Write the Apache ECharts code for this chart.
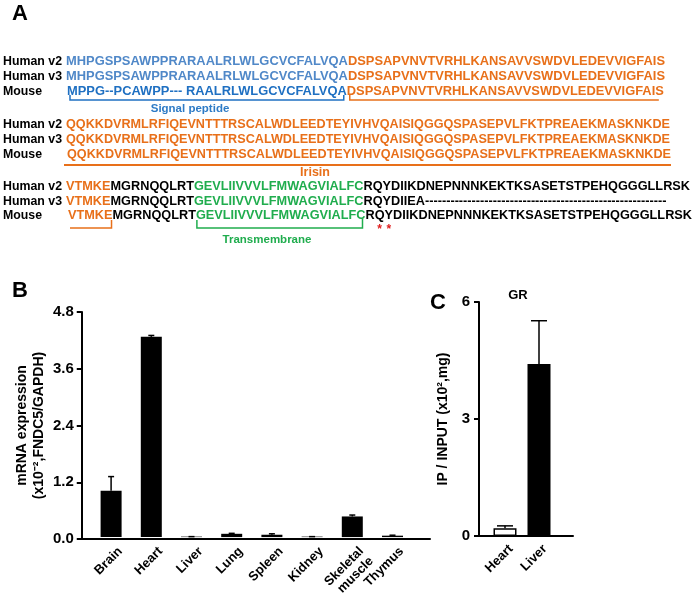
<!DOCTYPE html>
<html>
<head>
<meta charset="utf-8">
<script src="https://cdn.jsdelivr.net/npm/echarts@6/dist/echarts.min.js"></script>
<style>
  html, body { margin: 0; padding: 0; background: #fff; }
  #main { width: 697px; height: 601px; }
</style>
</head>
<body>
<div id="main"></div>
<script>
// ---- panel A : sequences ----
var rowLabels = ['Human v2', 'Human v3', 'Mouse'];
var seqBlock1 = [
  [['hb', 'MHPGSPSAWPPRARAALRLWLGCVCFALVQA'], ['or', 'DSPSAPVNVTVRHLKANSAVVSWDVLEDEVVIGFAIS']],
  [['hb', 'MHPGSPSAWPPRARAALRLWLGCVCFALVQA'], ['or', 'DSPSAPVNVTVRHLKANSAVVSWDVLEDEVVIGFAIS']],
  [['mb', 'MPPG--PCAWPP--- RAALRLWLGCVCFALVQA'], ['or', 'DSPSAPVNVTVRHLKANSAVVSWDVLEDEVVIGFAIS']]
];
var seqBlock2 = [
  [['or', 'QQKKDVRMLRFIQEVNTTTRSCALWDLEEDTEYIVHVQAISIQGGQSPASEPVLFKTPREAEKMASKNKDE']],
  [['or', 'QQKKDVRMLRFIQEVNTTTRSCALWDLEEDTEYIVHVQAISIQGGQSPASEPVLFKTPREAEKMASKNKDE']],
  [['or', 'QQKKDVRMLRFIQEVNTTTRSCALWDLEEDTEYIVHVQAISIQGGQSPASEPVLFKTPREAEKMASKNKDE']]
];
var seqBlock3 = [
  [['or', 'VTMKE'], ['bk', 'MGRNQQLRT'], ['gr', 'GEVLIIVVVLFMWAGVIALFC'], ['bk', 'RQYDIIKDNEPNNNKEKTKSASETSTPEHQGGGLLRSK']],
  [['or', 'VTMKE'], ['bk', 'MGRNQQLRT'], ['gr', 'GEVLIIVVVLFMWAGVIALFC'], ['bk', 'RQYDIIEA---------------------------------------------------------']],
  [['or', 'VTMKE'], ['bk', 'MGRNQQLRT'], ['gr', 'GEVLIIVVVLFMWAGVIALFC'], ['bk', 'RQYDIIKDNEPNNNKEKTKSASETSTPEHQGGGLLRSK']]
];

// ---- panel B ----
var tissues = ['Brain', 'Heart', 'Liver', 'Lung', 'Spleen', 'Kidney', 'Skeletal\nmuscle', 'Thymus'];
var mrnaMean = [0.99, 4.27, 0.01, 0.07, 0.05, 0.01, 0.44, 0.03];
var mrnaErr = [0.30, 0.03, 0.0, 0.01, 0.02, 0.0, 0.03, 0.01];
var mrnaTicks = [0, 1.2, 2.4, 3.6, 4.8];

// ---- panel C ----
var grTissues = ['Heart', 'Liver'];
var grMean = [0.20, 4.41];
var grErr = [0.06, 1.11];
var grTicks = [0, 3, 6];

var ff = '"Liberation Sans", Arial, sans-serif';
var colors = { hb: '#5088c8', mb: '#1f70c2', or: '#e8701a', bk: '#000', gr: '#20ad4e' };
var fs = 13.5;

var ctx = document.createElement('canvas').getContext('2d');
function tw(s, size) {
  ctx.font = 'bold ' + (size || fs) + 'px ' + ff;
  return ctx.measureText(s).width;
}

var rich = {};
Object.keys(colors).forEach(function (k) {
  rich[k] = { fill: colors[k], fontSize: fs, fontWeight: 'bold', fontFamily: ff };
});

var graphics = [];
function txt(x, y, s, opt) {
  opt = opt || {};
  graphics.push({
    type: 'text', x: x, y: y, silent: true, scaleX: opt.sx || 1,
    style: {
      text: s, fill: opt.fill || '#000', align: opt.align || 'left', verticalAlign: 'middle',
      font: 'bold ' + (opt.size || fs) + 'px ' + ff,
      rich: opt.rich
    }
  });
}
function pline(pts, color, w) {
  graphics.push({
    type: 'polyline', silent: true, shape: { points: pts },
    style: { stroke: color, lineWidth: w || 1.5, fill: null }
  });
}
function joined(segs, n) {
  var s = '';
  for (var i = 0; i < n; i++) s += segs[i][1];
  return s;
}
// draws one block; the text is squeezed so the first row ends where it does in the figure
function drawBlock(block, ys, xs, rightEdge) {
  var sx = (rightEdge - xs[0]) / tw(joined(block[0], block[0].length));
  block.forEach(function (segs, r) {
    txt(3, ys[r], rowLabels[r], { sx: 59 / tw('Human v2') });
    var t = segs.map(function (sg) { return '{' + sg[0] + '|' + sg[1] + '}'; }).join('');
    txt(xs[r], ys[r], t, { rich: rich, sx: sx });
  });
  return function (r, n) { return xs[r] + sx * tw(joined(block[r], n)); };
}

txt(12, 14, 'A', { size: 22 });
txt(12, 291, 'B', { size: 22 });
txt(430, 303, 'C', { size: 22 });

// block 1
var pos1 = drawBlock(seqBlock1, [61, 76, 91], [66, 66, 67], 665);
var mb = pos1(2, 1);
pline([[70, 95], [70, 100], [mb - 3, 100], [mb - 3, 95]], colors.mb);
pline([[mb + 3, 95], [mb + 3, 100], [pos1(2, 2) - 5, 100]], colors.or);
txt(190, 109, 'Signal peptide', { fill: '#2e7bc6', size: 11.5, align: 'center' });

// block 2
var pos2 = drawBlock(seqBlock2, [124, 139, 154], [66, 66, 67], 670);
pline([[64, 165], [pos2(2, 1), 165]], colors.or, 2);
txt(315, 173, 'Irisin', { fill: colors.or, size: 12.5, align: 'center' });

// block 3
var pos3 = drawBlock(seqBlock3, [186, 201, 215], [66, 66, 68], 690);
var e1 = pos3(2, 1);
pline([[70, 228], [e1 - 1, 228], [e1 - 1, 220]], colors.or);
var g0 = pos3(2, 2), g1 = pos3(2, 3);
pline([[g0 + 1, 220], [g0 + 1, 228], [g1 - 3, 228], [g1 - 3, 219]], colors.gr);
txt(267, 240, 'Transmembrane', { fill: colors.gr, size: 11.5, align: 'center' });
var sq = (pos3(2, 4) - g1) / tw(seqBlock3[2][3][1]);
var qx = g1 + sq * tw('R');
txt(qx + sq * tw('Q') / 2, 230, '*', { fill: '#e02020', size: 12, align: 'center' });
txt(qx + sq * (tw('Q') + tw('Y') / 2), 230, '*', { fill: '#e02020', size: 12, align: 'center' });

txt(518, 295, 'GR', { size: 13, align: 'center' });

function errRender(hw) {
  return function (params, api) {
    var p0 = api.coord([api.value(0), api.value(1)]);
    var p1 = api.coord([api.value(0), api.value(1) + api.value(2)]);
    var st = { stroke: '#000', lineWidth: 1.5 };
    return {
      type: 'group', children: [
        { type: 'line', shape: { x1: p0[0], y1: p0[1], x2: p1[0], y2: p1[1] }, style: st },
        { type: 'line', shape: { x1: p1[0] - hw, y1: p1[1], x2: p1[0] + hw, y2: p1[1] }, style: st }
      ]
    };
  };
}

var axisFont = { color: '#000', fontWeight: 'bold', fontFamily: ff };
var blackLine = { show: true, lineStyle: { color: '#000', width: 2 } };

var chart = echarts.init(document.getElementById('main'));
var option = {
  backgroundColor: '#fff',
  animation: false,
  graphic: graphics,
  grid: [
    { left: 78, top: 312, width: 352, height: 227 },
    { left: 91, top: 312, width: 321.6, height: 227 },
    { left: 479, top: 302, width: 94, height: 234 },
    { left: 488, top: 302, width: 68, height: 234 }
  ],
  xAxis: [
    { gridIndex: 0, type: 'value', min: 0, max: 1, axisLine: blackLine, axisTick: { show: false },
      axisLabel: { show: false }, splitLine: { show: false } },
    { gridIndex: 1, type: 'category', data: tissues, axisLine: { show: false }, axisTick: { show: false },
      axisLabel: Object.assign({ rotate: 45, fontSize: 13, margin: 3, interval: 0, verticalAlign: 'top',
        padding: [6, 0, 0, 0], lineHeight: 14 }, axisFont) },
    { gridIndex: 2, type: 'value', min: 0, max: 1, axisLine: blackLine, axisTick: { show: false },
      axisLabel: { show: false }, splitLine: { show: false } },
    { gridIndex: 3, type: 'category', data: grTissues, axisLine: { show: false }, axisTick: { show: false },
      axisLabel: Object.assign({ rotate: 45, fontSize: 13, margin: 5, interval: 0, verticalAlign: 'top',
        padding: [2, 0, 0, 0] }, axisFont) }
  ],
  yAxis: [
    { gridIndex: 0, type: 'value', min: mrnaTicks[0], max: mrnaTicks[mrnaTicks.length - 1], interval: 1.2,
      axisLine: blackLine, axisTick: { show: true, length: 5, lineStyle: { width: 2, color: '#000' } },
      splitLine: { show: false },
      axisLabel: Object.assign({ fontSize: 15, margin: 8, formatter: function (v) { return v.toFixed(1); } }, axisFont),
      name: 'mRNA expression\n(x10\u207B\u00B2,FNDC5/GAPDH)', nameLocation: 'middle', nameGap: 34,
      nameTextStyle: Object.assign({ fontSize: 14, lineHeight: 17 }, axisFont) },
    { gridIndex: 1, type: 'value', min: 0, max: 4.8, show: false },
    { gridIndex: 2, type: 'value', min: grTicks[0], max: grTicks[grTicks.length - 1], interval: 3,
      axisLine: blackLine, axisTick: { show: true, length: 5, lineStyle: { width: 2, color: '#000' } },
      splitLine: { show: false },
      axisLabel: Object.assign({ fontSize: 15, margin: 9 }, axisFont),
      name: 'IP / INPUT (x10\u00B2,mg)', nameLocation: 'middle', nameGap: 29,
      nameTextStyle: Object.assign({ fontSize: 14 }, axisFont) },
    { gridIndex: 3, type: 'value', min: 0, max: 6, show: false }
  ],
  series: [
    { type: 'bar', xAxisIndex: 1, yAxisIndex: 1, barWidth: 21, data: mrnaMean,
      itemStyle: { color: '#000' } },
    { type: 'custom', xAxisIndex: 1, yAxisIndex: 1, renderItem: errRender(3),
      encode: { x: 0, y: 1 },
      data: mrnaMean.map(function (v, i) { return [i, v, mrnaErr[i]]; }) },
    { type: 'bar', xAxisIndex: 3, yAxisIndex: 3, barWidth: 23,
      data: [
        { value: grMean[0], itemStyle: { color: '#fff', borderColor: '#000', borderWidth: 1.5 } },
        { value: grMean[1], itemStyle: { color: '#000' } }
      ] },
    { type: 'custom', xAxisIndex: 3, yAxisIndex: 3, renderItem: errRender(8),
      encode: { x: 0, y: 1 }, z: 1,
      data: grMean.map(function (v, i) { return [i, v, grErr[i]]; }) }
  ]
};
chart.setOption(option);
</script>
</body>
</html>
